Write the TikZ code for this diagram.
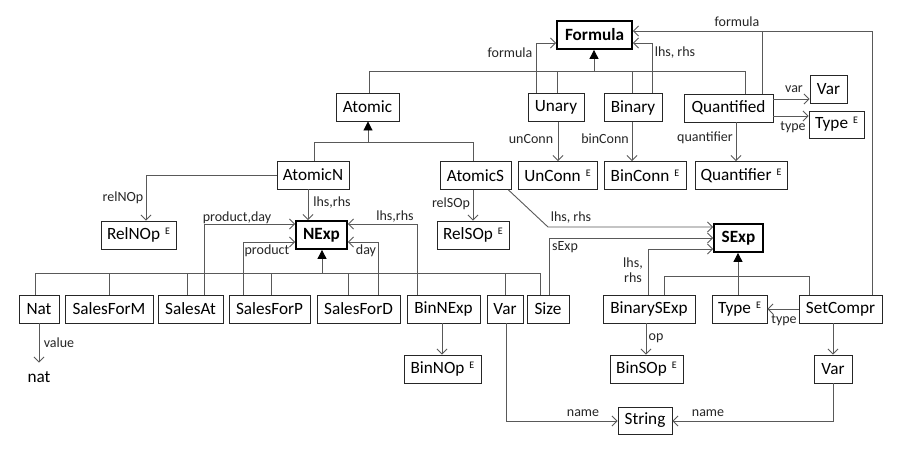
\documentclass[tikz,border=0pt]{standalone}
\usepackage{fontspec}
\setmainfont{Carlito}
\usetikzlibrary{arrows.meta}
\newcommand{\sE}{\hspace{5pt}\raisebox{5pt}{\fontsize{10}{10}\selectfont E}}
\begin{document}
\begin{tikzpicture}[x=1pt,y=-1pt,
  box/.style={draw=black!85, line width=0.9pt, inner sep=0pt, minimum height=28pt,
    font=\fontsize{17.2}{18}\selectfont, text=black, anchor=center},
  bbox/.style={box, line width=1.8pt, draw=black, font=\bfseries\fontsize{17.2}{18}\selectfont},
  lab/.style={font=\fontsize{14}{15}\selectfont, inner sep=0pt, text=black!85},
  conn/.style={draw=black!65, line width=0.9pt},
  assoc/.style={conn, -{Straight Barb[length=5pt,width=10pt]}},
  gen/.style={conn, -{Triangle[length=9pt,width=9pt,color=black]}}]
\useasboundingbox (0,0) rectangle (900,451);
\fill[white] (0,0) rectangle (900,451);

% nodes
\node[bbox, minimum width=75pt] (Formula) at (594.5,35) {Formula};
\node[box, minimum width=63pt] (Atomic) at (367.5,107) {Atomic};
\node[box, minimum width=56pt] (Unary) at (556,107.5) {Unary};
\node[box, minimum width=58pt] (Binary) at (633,107.5) {Binary};
\node[box, minimum width=89pt] (Quantified) at (728.5,108) {Quantified};
\node[box, minimum width=37pt] (VarT) at (828.5,89) {Var};
\node[box, minimum width=55pt, minimum height=27pt] (TypeT) at (836.5,124.5) {Type\sE};
\node[box, minimum width=79pt] (UnConn) at (557.5,175.5) {UnConn\sE};
\node[box, minimum width=82pt] (BinConn) at (645,175.5) {BinConn\sE};
\node[box, minimum width=92pt] (Quantifier) at (741,175.5) {Quantifier\sE};
\node[box, minimum width=72pt] (AtomicN) at (313,175) {AtomicN};
\node[box, minimum width=71pt] (AtomicS) at (475.5,175.5) {AtomicS};
\node[box, minimum width=75pt] (RelNOp) at (138.5,235) {RelNOp\sE};
\node[bbox, minimum width=51pt] (NExp) at (321.5,235) {NExp};
\node[box, minimum width=72pt] (RelSOp) at (473,235) {RelSOp\sE};
\node[bbox, minimum width=49pt] (SExp) at (738.5,238) {SExp};

\node[box, minimum width=40pt] (Nat) at (39,309) {Nat};
\node[box, minimum width=88pt] (SalesForM) at (109,309) {SalesForM};
\node[box, minimum width=65pt] (SalesAt) at (190.5,309) {SalesAt};
\node[box, minimum width=81pt] (SalesForP) at (269.5,309) {SalesForP};
\node[box, minimum width=83pt] (SalesForD) at (358.5,309) {SalesForD};
\node[box, minimum width=73pt] (BinNExp) at (443.5,309) {BinNExp};
\node[box, minimum width=36pt] (VarB) at (505,309) {Var};
\node[box, minimum width=42pt] (Size) at (548,309) {Size};
\node[box, minimum width=92pt] (BinarySExp) at (649,309) {BinarySExp};
\node[box, minimum width=55pt] (TypeB) at (739.5,309) {Type\sE};
\node[box, minimum width=83pt] (SetCompr) at (840.5,309) {SetCompr};

\node[box, minimum width=77pt] (BinNOp) at (442.5,369) {BinNOp\sE};
\node[box, minimum width=73pt] (BinSOp) at (646.5,369) {BinSOp\sE};
\node[box, minimum width=38pt] (VarR) at (833,369) {Var};
\node[box, minimum width=54pt, minimum height=27pt] (String) at (645,420.5) {String};
\node[box, draw=none, minimum height=28pt] (nat) at (39,377) {nat};

% generalizations
\draw[conn] (369,0 |- Atomic.north) |- (745,71) -- (745,0 |- Quantified.north);
\draw[conn] (557,0 |- Unary.north) -- (557,71);
\draw[conn] (632,0 |- Binary.north) -- (632,71);
\draw[gen] (594,71) -- (594,0 |- Formula.south);

\draw[conn] (314,0 |- AtomicN.north) |- (473,142) -- (473,0 |- AtomicS.north);
\draw[gen] (368,142) -- (368,0 |- Atomic.south);

\draw[conn] (35,0 |- Nat.north) |- (540,273) -- (540,0 |- Size.north);
\draw[conn] (109,0 |- SalesForM.north) -- (109,273);
\draw[conn] (187,0 |- SalesAt.north) -- (187,273);
\draw[conn] (271,0 |- SalesForP.north) -- (271,273);
\draw[conn] (348,0 |- SalesForD.north) -- (348,273);
\draw[conn] (505,0 |- VarB.north) -- (505,273);
\draw[gen] (322,273) -- (322,0 |- NExp.south);

\draw[conn] (664,0 |- BinarySExp.north) |- (809,276) -- (809,0 |- SetCompr.north);
\draw[gen] (738,0 |- TypeB.north) -- (738,0 |- SExp.south);

% associations to Formula
\draw[assoc] (536,0 |- Unary.north) |- (Formula.west |- 0,43);
\node[lab] (l1) at (510,53) {formula};
\draw[assoc] (652,0 |- Binary.north) |- (Formula.east |- 0,43);
\node[lab] (l2) at (675,53) {lhs, rhs};
\draw[conn] (762,0 |- Quantified.north) -- (762,31);
\draw[assoc] (872,0 |- SetCompr.north) |- (Formula.east |- 0,31);
\node[lab] (l3) at (737,22) {formula};

% Quantified
\draw[assoc] (Quantified.east |- 0,99) -- (VarT.west |- 0,99);
\node[lab] (l4) at (794,89) {var};
\draw[assoc] (Quantified.east |- 0,116) -- (TypeT.west |- 0,116);
\node[lab] (l5) at (793,127) {type};
\draw[assoc] (736,0 |- Quantified.south) -- (736,0 |- Quantifier.north);
\node[lab] (l6) at (705,138) {quantifier};

% Unary/Binary
\draw[assoc] (558,0 |- Unary.south) -- (558,0 |- UnConn.north);
\node[lab] (l7) at (531,139) {unConn};
\draw[assoc] (632,0 |- Binary.south) -- (632,0 |- BinConn.north);
\node[lab] (l8) at (605,139) {binConn};

% AtomicN / AtomicS
\draw[assoc] (AtomicN.west) -| (146,0 |- RelNOp.north);
\node[lab] (l9) at (123,198) {relNOp};
\draw[assoc] (308,0 |- AtomicN.south) -- (308,0 |- NExp.north);
\node[lab] (l10) at (332,203) {lhs,rhs};
\draw[assoc] (473,0 |- AtomicS.south) -- (473,0 |- RelSOp.north);
\node[lab] (l11) at (451,204) {relSOp};
\draw[assoc] ([xshift=-3pt]AtomicS.south east) -- (548,227) -- (SExp.west |- 0,227);
\node[lab] (l12) at (571,218) {lhs, rhs};

% into NExp
\draw[assoc] (204,0 |- SalesAt.north) |- (NExp.west |- 0,224);
\node[lab] (l13) at (237,218) {product,day};
\draw[assoc] (243,0 |- SalesForP.north) |- (NExp.west |- 0,242);
\node[lab] (l14) at (267,251) {product};
\draw[assoc] (378,0 |- SalesForD.north) |- (NExp.east |- 0,242);
\node[lab] (l15) at (366,251) {day};
\draw[assoc] (417,0 |- BinNExp.north) |- (NExp.east |- 0,224);
\node[lab] (l16) at (395,217) {lhs,rhs};

% into SExp
\draw[assoc] (549,0 |- Size.north) |- (SExp.west |- 0,238);
\node[lab] (l17) at (565,247) {sExp};
\draw[assoc] (648,0 |- BinarySExp.north) |- (SExp.west |- 0,249);
\node[lab, align=center] (l18) at (633,270) {lhs,\\rhs};

% lower
\draw[assoc] (442,0 |- BinNExp.south) -- (442,0 |- BinNOp.north);
\draw[assoc] (39,0 |- Nat.south) -- (nat.north);
\node[lab] (l19) at (59,343) {value};
\draw[assoc] (646,0 |- BinarySExp.south) -- (646,0 |- BinSOp.north);
\node[lab] (l20) at (656,338) {op};
\draw[assoc] (SetCompr.west |- 0,309) -- (TypeB.east |- 0,309);
\node[lab] (l21) at (784,320) {type};
\draw[assoc] (833,0 |- SetCompr.south) -- (VarR.north);
\draw[assoc] (506,0 |- VarB.south) |- (String.west |- 0,421);
\node[lab] (l22) at (583,413) {name};
\draw[assoc] (VarR.south) |- (String.east |- 0,421);
\node[lab] (l23) at (708,413) {name};
\end{tikzpicture}
\end{document}
